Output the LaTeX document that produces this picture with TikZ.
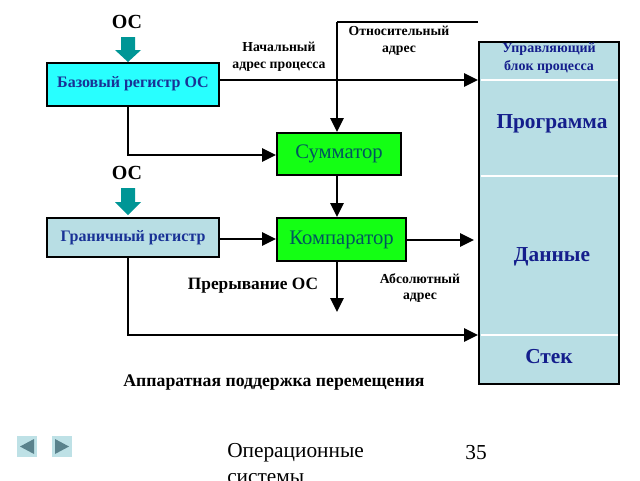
\documentclass[tikz,border=0pt]{standalone}
\usepackage{fontspec}
\setmainfont{Liberation Serif}
\usetikzlibrary{arrows.meta}
\definecolor{cyanfill}{RGB}{40,255,255}
\definecolor{lightfill}{RGB}{184,222,228}
\definecolor{greenfill}{RGB}{20,255,20}
\definecolor{darkblue}{RGB}{25,50,150}
\definecolor{navy}{RGB}{20,30,140}
\definecolor{tealtext}{RGB}{0,85,95}
\definecolor{tealarrow}{RGB}{0,150,150}
\definecolor{navbtn}{RGB}{190,225,230}
\definecolor{navtri}{RGB}{90,130,140}
\tikzset{
  wire/.style={line width=1.5pt},
  arr/.style={wire,-{Triangle[length=10.5pt,width=10pt]}},
  regbox/.style={draw,line width=1.5pt,inner sep=0pt,font=\bfseries\fontsize{12}{14}\selectfont,text=darkblue},
  unitbox/.style={draw,line width=1.5pt,fill=greenfill,inner sep=0pt,font=\fontsize{15.5}{18}\selectfont,text=tealtext},
  lbl/.style={font=\bfseries\fontsize{10.3}{12.5}\selectfont,align=center,inner sep=0pt},
  oslbl/.style={font=\bfseries\fontsize{15}{18}\selectfont,inner sep=0pt},
  seglbl/.style={font=\bfseries\fontsize{16}{19}\selectfont,text=navy,inner sep=0pt},
  tealarr/.style={fill=tealarrow,draw=none},
  sepline/.style={white,line width=2.2pt}
}
\begin{document}
\begin{tikzpicture}[x=0.75pt,y=-0.75pt]
\useasboundingbox (0,0) rectangle (640,480);
% process block
\node[draw,line width=1.5pt,fill=lightfill,minimum width={140*0.75pt},minimum height={342*0.75pt},inner sep=0pt] (proc) at (549,213) {};
\draw[sepline] (480.5,80) -- (617.5,80);
\draw[sepline] (480.5,176) -- (617.5,176);
\draw[sepline] (480.5,335) -- (617.5,335);
\node[lbl,text=navy,font=\bfseries\fontsize{10.5}{13}\selectfont] (ctl) at (549,58) {Управляющий\\блок процесса};
\node[seglbl] (prog) at (552,124) {Программа};
\node[seglbl] (data) at (552,257) {Данные};
\node[seglbl] (stack) at (549,357) {Стек};
\coordinate (pin1) at (proc.west |- 0,80);
\coordinate (pin2) at (474,240);
\coordinate (pin3) at (proc.west |- 0,335);
% registers
\node[regbox,fill=cyanfill,minimum width={172*0.75pt},minimum height={43*0.75pt}] (base) at (133,84) {Базовый регистр ОС};
\node[regbox,fill=lightfill,minimum width={172*0.75pt},minimum height={39*0.75pt}] (lim) at (133,237.5) {Граничный регистр};
% units
\node[unitbox,minimum width={124*0.75pt},minimum height={42*0.75pt}] (sum) at (339,154) {Сумматор};
\node[unitbox,minimum width={129*0.75pt},minimum height={43*0.75pt}] (cmp) at (341.5,239.5) {Компаратор};
% OS labels and teal arrows
\node[oslbl] (os1) at (127,22) {ОС};
\node[oslbl] (os2) at (127,173) {ОС};
\fill[tealarr] (121,37) -- (135,37) -- (135,50) -- (141,50) -- (128,62) -- (115,50) -- (121,50) -- cycle;
\fill[tealarr] (121,188) -- (135,188) -- (135,202) -- (141,202) -- (128,215) -- (115,202) -- (121,202) -- cycle;
% wires
\coordinate (rtop) at (478,22);
\coordinate (rcorner) at (337,22);
\draw[arr] (base.east |- pin1) -- (pin1);
\draw[wire] (rtop) -- (rcorner);
\draw[arr] (rcorner) -- (rcorner |- sum.north);
\coordinate (bturn) at (128,155);
\draw[arr] (base.south -| bturn) -- (bturn) -- (sum.west |- bturn);
\draw[arr] (sum.south -| rcorner) -- (rcorner |- cmp.north);
\draw[arr] (lim.east |- 0,239) -- (cmp.west |- 0,239);
\draw[arr] (cmp.east |- pin2) -- (pin2);
\coordinate (irq) at (337,312);
\draw[arr] (cmp.south -| irq) -- (irq);
\coordinate (lturn) at (128,335);
\draw[arr] (lim.south -| lturn) -- (lturn) -- (pin3);
% labels
\node[lbl] (start) at (279,57) {Начальный\\адрес процесса};
\node[lbl] (rel) at (399,41) {Относительный\\адрес};
\node[lbl] (abs) at (420,288) {Абсолютный\\адрес};
\node[font=\bfseries\fontsize{13}{15}\selectfont,inner sep=0pt] (int) at (253,286) {Прерывание ОС};
\node[font=\bfseries\fontsize{13.3}{16}\selectfont,inner sep=0pt] (title) at (274,383) {Аппаратная поддержка перемещения};
% footer
\node[fill=navbtn,minimum width={20*0.75pt},minimum height={21*0.75pt},inner sep=0pt] (prev) at (27,446.5) {};
\node[fill=navbtn,minimum width={20*0.75pt},minimum height={21*0.75pt},inner sep=0pt] (next) at (62,446.5) {};
\fill[navtri] (20,446.5) -- (34,439) -- (34,454) -- cycle;
\fill[navtri] (55,439) -- (69,446.5) -- (55,454) -- cycle;
\node[font=\fontsize{16}{20}\selectfont,anchor=west,inner sep=0pt] (foot) at (227,453) {Операционные};
\node[font=\fontsize{16}{20}\selectfont,anchor=west,inner sep=0pt] (foot2) at (227,479) {системы};
\node[font=\fontsize{16}{20}\selectfont,inner sep=0pt] (page) at (476,453) {35};
\end{tikzpicture}
\end{document}
